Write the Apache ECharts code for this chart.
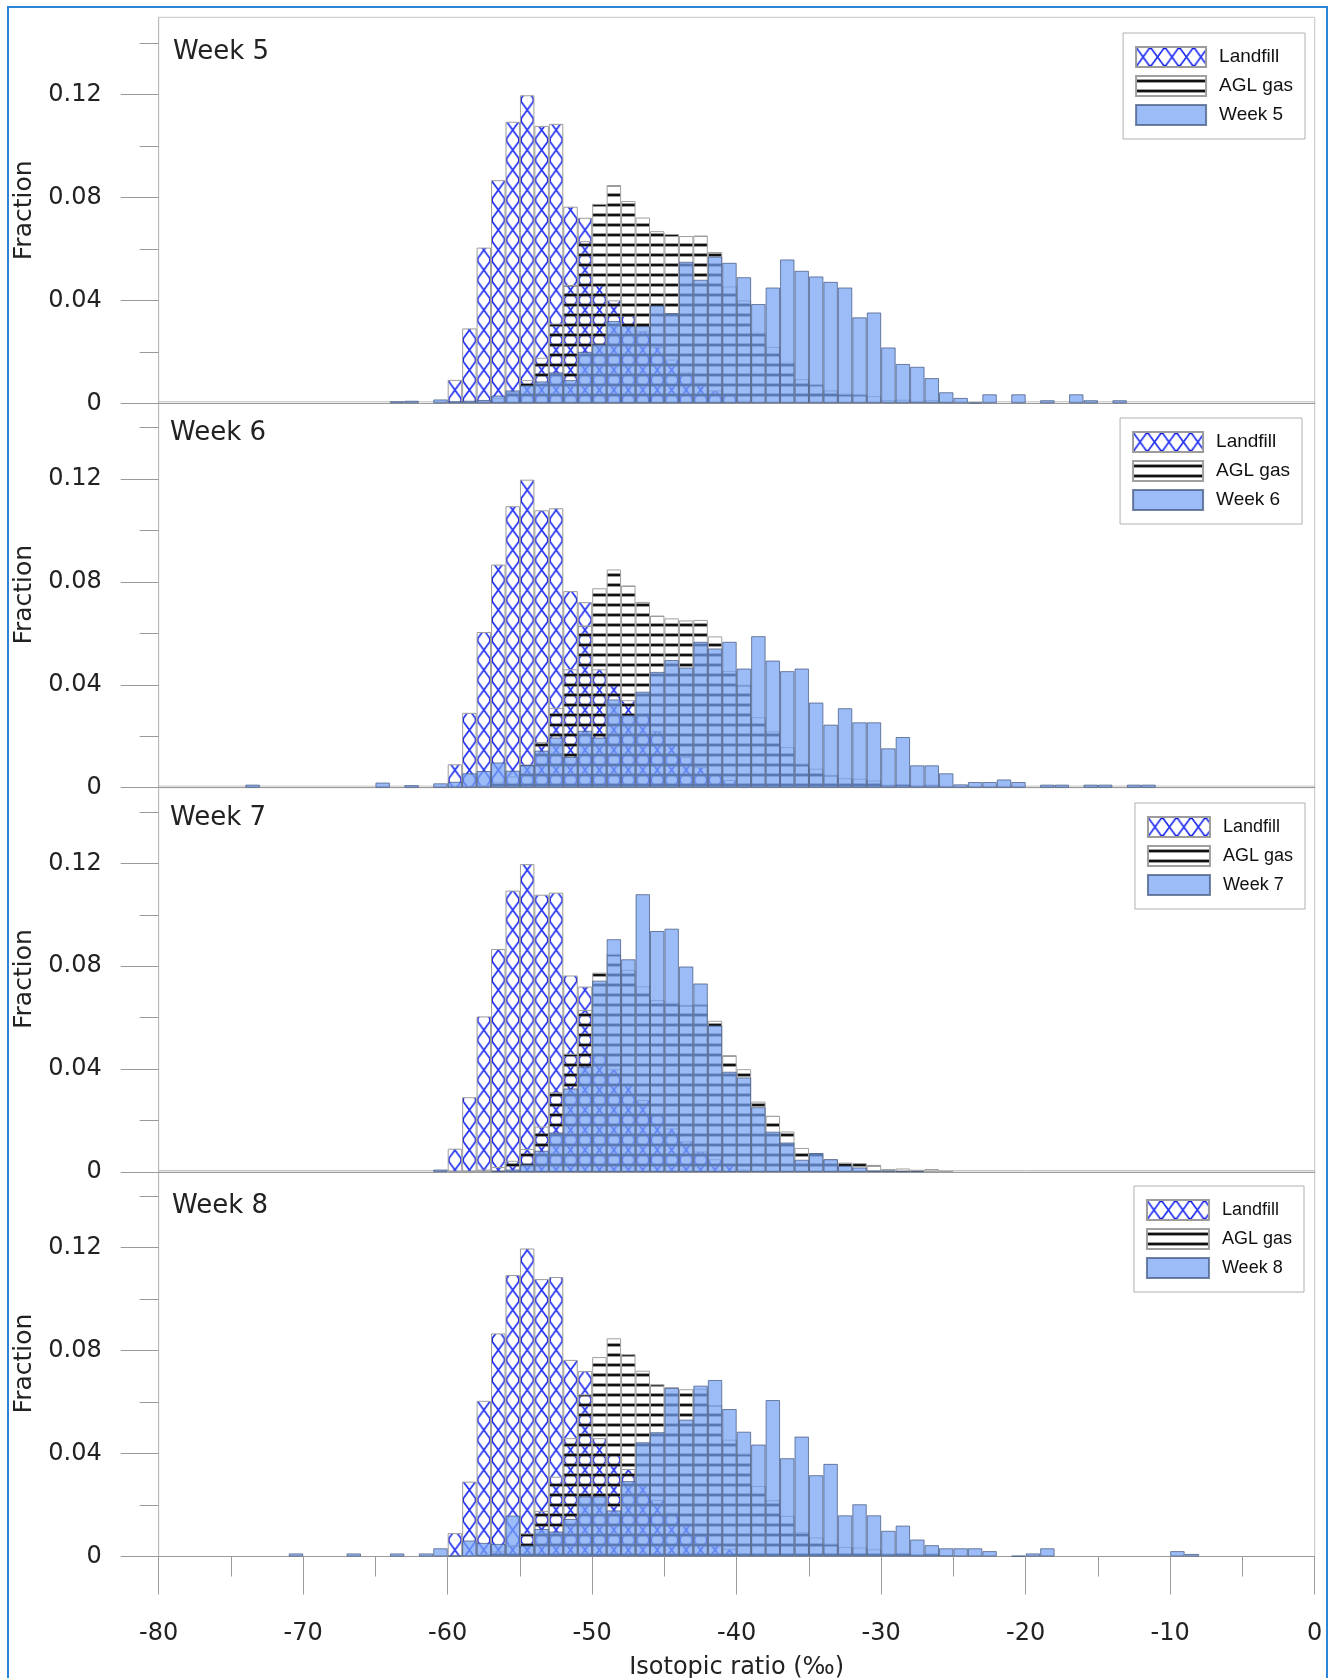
<!DOCTYPE html>
<html><head><meta charset="utf-8">
<script src="https://cdn.jsdelivr.net/npm/echarts@6/dist/echarts.min.js"></script>
<style>html,body{margin:0;padding:0;background:#fff}#c{width:1335px;height:1678px}</style>
</head><body><div id="c"></div>
<script>
// ---------- DATA (bin left edge in ‰, fraction) ----------
const landfillBins = [-60,-59,-58,-57,-56,-55,-54,-53,-52,-51,-50,-49,-48,-47,-46,-45,-44,-43,-42,-41,-40];
const landfill     = [0.0091,0.0291,0.0605,0.0867,0.1094,0.1197,0.1078,0.1086,0.0764,0.0721,0.046,0.040,0.034,0.028,0.022,0.017,0.012,0.008,0.005,0.003,0.001];

const aglBins = [-59,-58,-57,-56,-55,-54,-53,-52,-51,-50,-49,-48,-47,-46,-45,-44,-43,-42,-41,-40,-39,-38,-37,-36,-35,-34,-33,-32,-31,-30,-29,-28,-27,-26];
const agl     = [0.0005,0.001,0.002,0.0044,0.009,0.0177,0.031,0.046,0.063,0.0775,0.0848,0.0786,0.0722,0.0669,0.0658,0.065,0.0652,0.0588,0.0454,0.040,0.0274,0.0219,0.0158,0.0094,0.0074,0.005,0.0037,0.0035,0.0028,0.0012,0.0014,0.0009,0.0012,0.0005];

const week5Bins = [-64,-63,-61,-60,-59,-58,-57,-56,-55,-54,-53,-52,-51,-50,-49,-48,-47,-46,-45,-44,-43,-42,-41,-40,-39,-38,-37,-36,-35,-34,-33,-32,-31,-30,-29,-28,-27,-26,-25,-24,-23,-21,-19,-17,-16,-14];
const week5     = [0.0008,0.001,0.0015,0.0008,0.001,0.0013,0.003,0.005,0.007,0.0085,0.012,0.009,0.02,0.023,0.032,0.03,0.03,0.038,0.035,0.055,0.048,0.057,0.0546,0.049,0.0386,0.045,0.0559,0.0515,0.0493,0.0472,0.045,0.0334,0.0353,0.0217,0.0153,0.0142,0.0098,0.0043,0.0021,0.0003,0.0035,0.0035,0.0012,0.0035,0.0012,0.0012];

const week6Bins = [-74,-65,-63,-61,-60,-59,-58,-57,-56,-55,-54,-53,-52,-51,-50,-49,-48,-47,-46,-45,-44,-43,-42,-41,-40,-39,-38,-37,-36,-35,-34,-33,-32,-31,-30,-29,-28,-27,-26,-25,-24,-23,-22,-21,-19,-18,-16,-15,-13,-12];
const week6     = [0.0012,0.002,0.001,0.0017,0.0023,0.0056,0.0065,0.0098,0.0066,0.0088,0.0144,0.0195,0.012,0.0221,0.0195,0.0343,0.0282,0.0373,0.045,0.0496,0.0467,0.0567,0.0541,0.0567,0.0463,0.0589,0.0494,0.0453,0.0463,0.0331,0.0245,0.0309,0.0254,0.0254,0.0153,0.0197,0.0087,0.0087,0.0056,0.0013,0.0022,0.0022,0.0032,0.0022,0.0012,0.0012,0.0012,0.0012,0.0012,0.0012];

const week7Bins = [-61,-57,-56,-55,-54,-53,-52,-51,-50,-49,-48,-47,-46,-45,-44,-43,-42,-41,-40,-39,-38,-37,-36,-35,-34,-33,-32,-31,-30,-29,-28];
const week7     = [0.001,0.0005,0.001,0.003,0.0083,0.0154,0.0325,0.041,0.0744,0.0905,0.0827,0.108,0.0937,0.0946,0.0799,0.0733,0.057,0.039,0.0368,0.0252,0.0157,0.0115,0.0048,0.0074,0.005,0.0025,0.0018,0.0006,0.0006,0.0004,0.0004];

const week8Bins = [-71,-67,-64,-62,-61,-60,-59,-58,-57,-56,-55,-54,-53,-52,-51,-50,-49,-48,-47,-46,-45,-44,-43,-42,-41,-40,-39,-38,-37,-36,-35,-34,-33,-32,-31,-30,-29,-28,-27,-26,-25,-24,-23,-21,-20,-19,-10,-9];
const week8     = [0.0012,0.0012,0.0012,0.0012,0.0032,0.0004,0.0062,0.0053,0.0049,0.0159,0.0043,0.0107,0.0097,0.0146,0.0234,0.0234,0.0179,0.0293,0.0444,0.0483,0.0655,0.0532,0.0664,0.0686,0.0573,0.0485,0.0435,0.0608,0.0382,0.0466,0.0316,0.036,0.016,0.0203,0.016,0.01,0.012,0.0066,0.0044,0.0032,0.0032,0.0032,0.0021,0.0003,0.0012,0.0032,0.0021,0.001];

const weekNames = ['Week 5','Week 6','Week 7','Week 8'];
const xTicks = [-80,-70,-60,-50,-40,-30,-20,-10,0];
const yTickLabels = [0,0.04,0.08,0.12];
const yMinorTicks = [0.02,0.06,0.10,0.14];
// ----------------------------------------------------------

const weeks = [[week5Bins,week5],[week6Bins,week6],[week7Bins,week7],[week8Bins,week8]];
const toData = (bins, vals) => bins.map((b,i) => [b + 0.5, vals[i]]);

const GL = 158.7, GW = 1156, GH = 386;
const tops = [17.3, 401.7, 786.1, 1170.5];
const binPx = GW / 80;
const FONT = 'DejaVu Sans';
const TICK = '#9a9a9a';

// patterns
function landfillTile(){
  const c = document.createElement('canvas'); c.width = 15; c.height = 20;
  const g = c.getContext('2d');
  g.strokeStyle = '#2433f2'; g.lineWidth = 1.7;
  g.beginPath(); g.moveTo(0,0); g.lineTo(15,20); g.moveTo(15,0); g.lineTo(0,20); g.stroke();
  g.fillStyle = '#1212d8';
  [[0,0],[15,0],[0,20],[15,20]].forEach(p => { g.beginPath(); g.arc(p[0],p[1],2.2,0,Math.PI*2); g.fill(); });
  return c;
}
function aglTile(){
  const c = document.createElement('canvas'); c.width = 4; c.height = 10;
  const g = c.getContext('2d');
  g.fillStyle = 'rgba(90,90,90,0.6)'; g.fillRect(0,3,4,1);
  g.fillStyle = '#111'; g.fillRect(0,4,4,2);
  g.fillStyle = 'rgba(90,90,90,0.6)'; g.fillRect(0,6,4,1);
  return c;
}
const landfillPattern = {image: landfillTile(), repeat: 'repeat', x: GL, y: 0, scaleX: binPx/15, scaleY: 1};
const aglPattern = {image: aglTile(), repeat: 'repeat', x: 0, y: 0};

const grid = [], xAxis = [], yAxis = [], series = [], legend = [], graphic = [];
const legendRight = [30, 33, 30, 31];
const legendTop = [33, 418, 803, 1186];
const legendIconW = [70, 70, 62, 62];
const legendFont = [19, 19, 18, 18];
const labelPos = [[173,54],[170,435],[170,820],[172,1208]];

// main panels
for (let i = 0; i < 4; i++) {
  const last = i === 3;
  grid.push({left: GL, top: tops[i], width: GW, height: GH, show: true, borderColor: '#c4c4c4', borderWidth: 1,
    backgroundColor: 'transparent', containLabel: false, outerBoundsMode: 'none'});
  xAxis.push({
    gridIndex: i, type: 'value', min: xTicks[0], max: xTicks[xTicks.length-1], interval: 10,
    axisLine: {show: true, onZero: false, lineStyle: {color: TICK, width: 1}},
    axisTick: {show: last, length: 38, lineStyle: {color: TICK}},
    minorTick: {show: last, splitNumber: 2, length: 20, lineStyle: {color: TICK}},
    axisLabel: {show: last, margin: 65, fontSize: 24, fontFamily: FONT, color: '#222'},
    splitLine: {show: false}, minorSplitLine: {show: false},
    name: last ? 'Isotopic ratio (‰)' : '', nameLocation: 'middle', nameGap: 99,
    nameTextStyle: {fontSize: 24, fontFamily: FONT, color: '#222'}
  });
  yAxis.push({
    gridIndex: i, type: 'value', min: 0, max: 0.15, position: 'left',
    name: 'Fraction', nameLocation: 'middle', nameGap: 121,
    nameTextStyle: {fontSize: 25, fontFamily: FONT, color: '#222'},
    axisLine: {show: true, onZero: false, lineStyle: {color: '#b8b8b8'}},
    axisTick: {show: true, length: 38, customValues: yTickLabels, lineStyle: {color: TICK}},
    axisLabel: {show: true, customValues: yTickLabels, margin: 57, fontSize: 24, fontFamily: FONT, color: '#222',
      formatter: v => v === 0 ? '0' : v.toFixed(2)},
    splitLine: {show: false}
  });
  const common = {type: 'bar', xAxisIndex: i, yAxisIndex: i, barWidth: binPx, barGap: '-100%', silent: true, animation: false};
  series.push(Object.assign({}, common, {name: 'Landfill', data: toData(landfillBins, landfill),
    itemStyle: {color: landfillPattern, borderColor: '#9c9c9c', borderWidth: 1}}));
  series.push(Object.assign({}, common, {name: 'AGL gas', data: toData(aglBins, agl),
    itemStyle: {color: aglPattern, borderColor: '#a0a0a0', borderWidth: 1}}));
  series.push(Object.assign({}, common, {name: weekNames[i], data: toData(weeks[i][0], weeks[i][1]),
    itemStyle: {color: 'rgba(118,162,245,0.72)', borderColor: 'rgba(70,90,130,0.75)', borderWidth: 1}}));
  legend.push({
    data: ['Landfill', 'AGL gas', weekNames[i]], right: legendRight[i], top: legendTop[i],
    orient: 'vertical', icon: 'rect', itemWidth: legendIconW[i], itemHeight: 20, itemGap: 7,
    padding: [13, 12, 13, 12], borderColor: '#b0b0b0', borderWidth: 1, backgroundColor: '#fff',
    selectedMode: false,
    textStyle: {fontFamily: 'Liberation Sans', fontSize: legendFont[i], color: '#111', padding: [0,0,0,8]}
  });
  graphic.push({type: 'text', left: labelPos[i][0], top: labelPos[i][1] - 15,
    style: {text: weekNames[i], font: '26px "DejaVu Sans"', fill: '#222'}});
}
// companion thin grids carrying only the short (minor) y ticks
for (let i = 0; i < 4; i++) {
  grid.push({left: GL, top: tops[i], width: 2, height: GH, show: false, containLabel: false, outerBoundsMode: 'none'});
  xAxis.push({gridIndex: 4 + i, type: 'value', min: 0, max: 1, show: false});
  yAxis.push({
    gridIndex: 4 + i, type: 'value', min: 0, max: 0.15, position: 'left',
    axisLine: {show: false, onZero: false},
    axisTick: {show: true, length: 19, customValues: yMinorTicks, lineStyle: {color: TICK}},
    axisLabel: {show: false}, splitLine: {show: false}
  });
}
graphic.push({type: 'rect', shape: {x: 8, y: 7, width: 1319, height: 1700}, style: {fill: 'none', stroke: '#2b84d6', lineWidth: 2}, silent: true, z: 100});

const chart = echarts.init(document.getElementById('c'), null, {renderer: 'canvas'});
chart.setOption({animation: false, textStyle: {fontFamily: FONT}, grid, xAxis, yAxis, series, legend, graphic});
</script></body></html>
